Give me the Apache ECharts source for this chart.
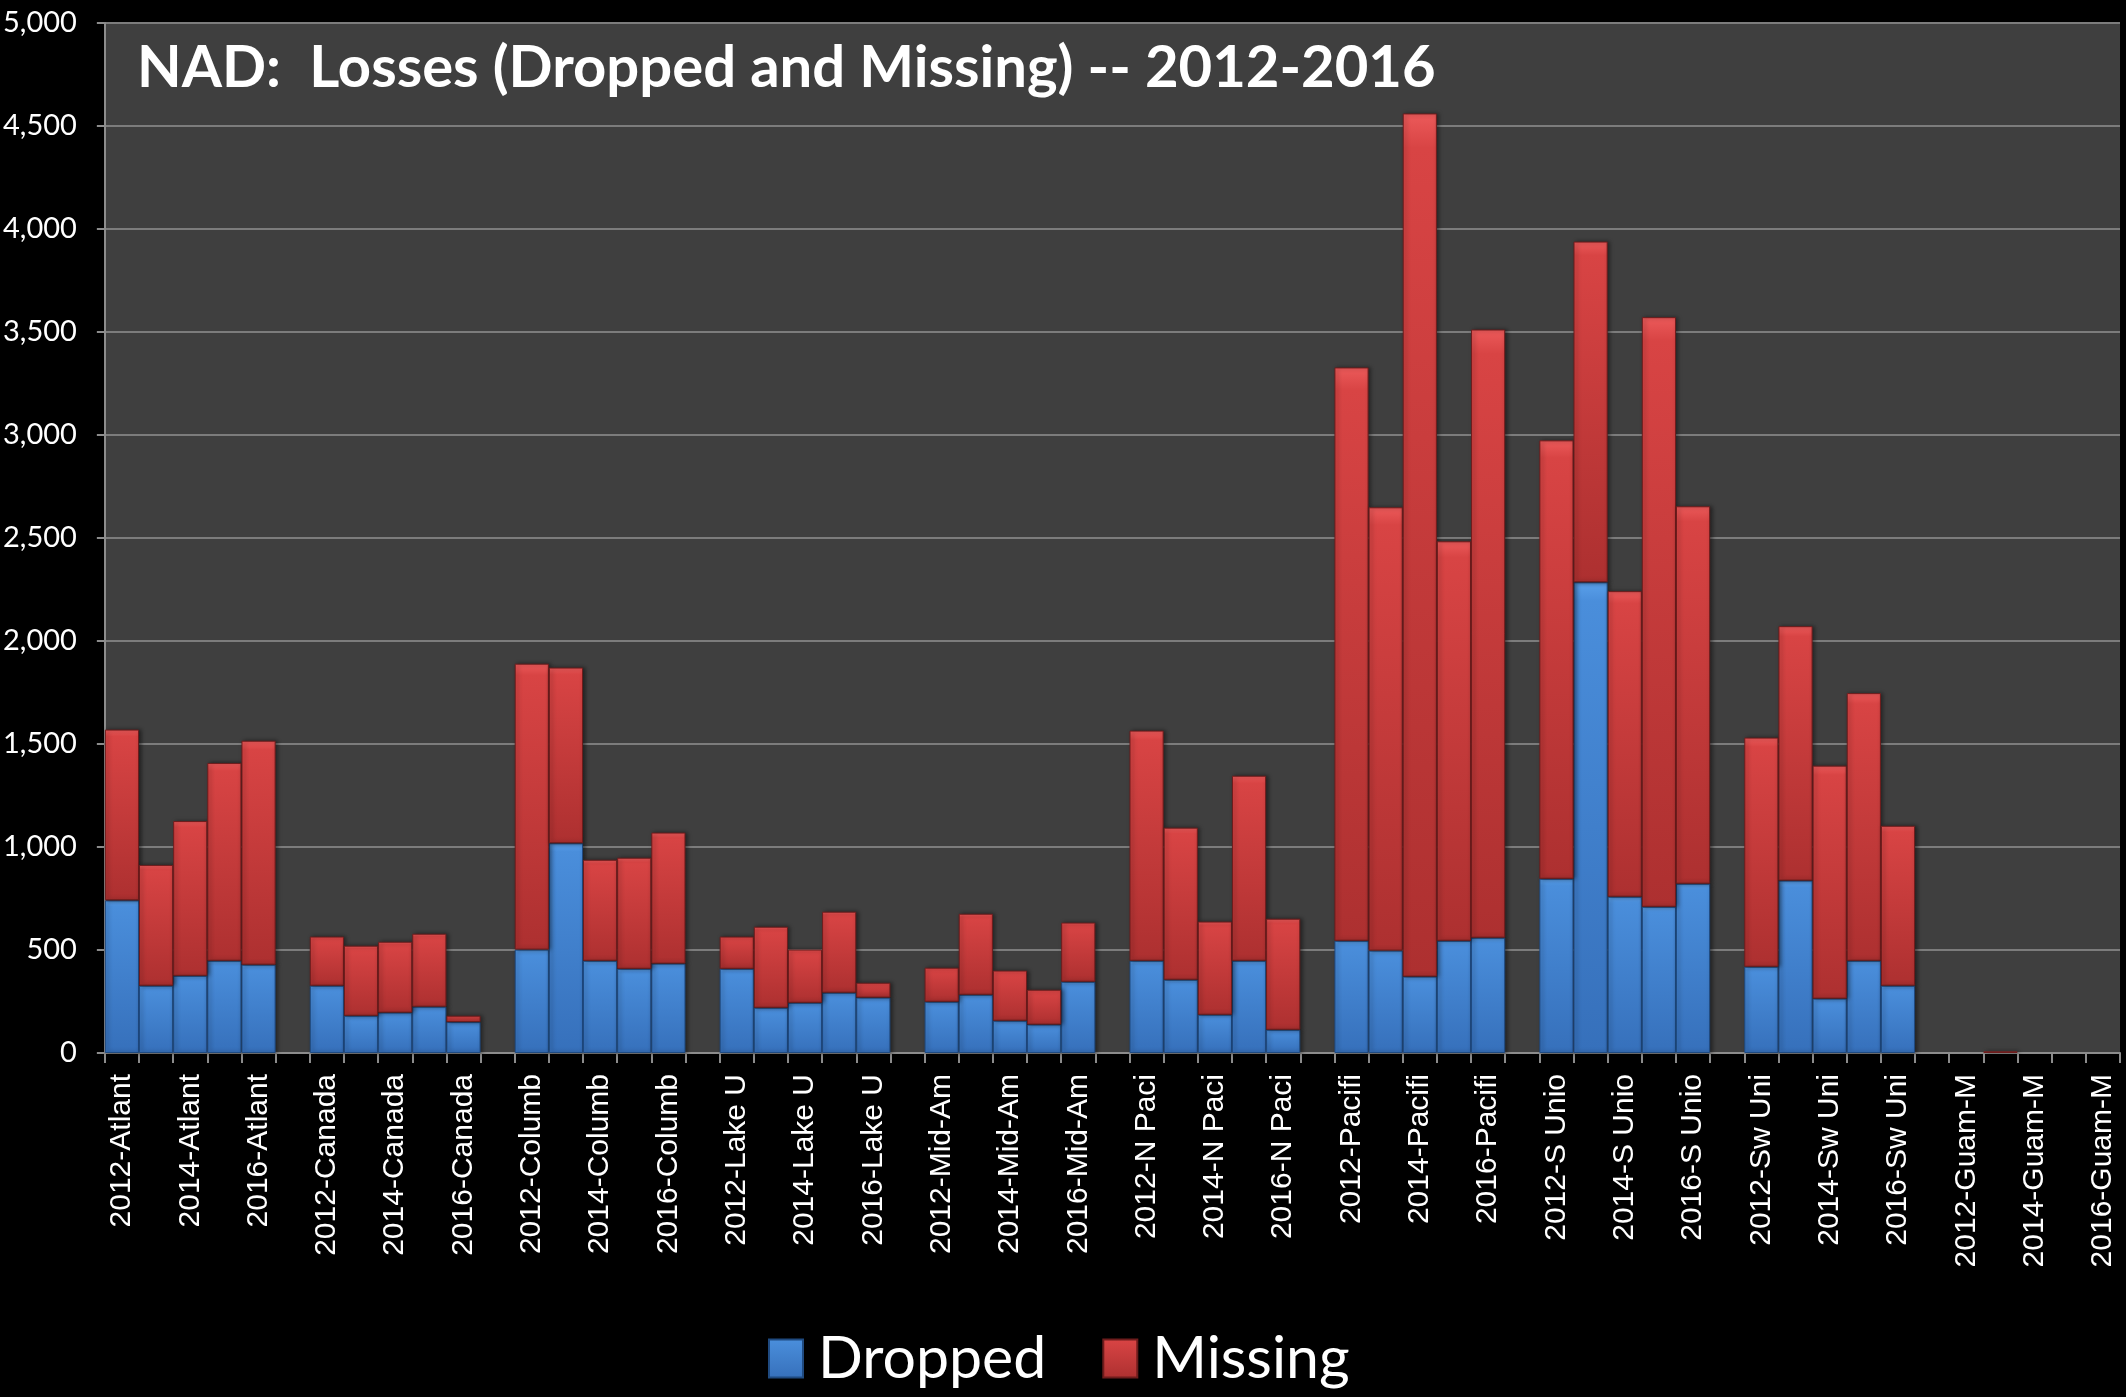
<!DOCTYPE html>
<html>
<head>
<meta charset="utf-8">
<script src="https://cdn.jsdelivr.net/npm/echarts@6/dist/echarts.min.js"></script>
<style>
html,body{margin:0;padding:0;background:#000;}
#chart{width:2126px;height:1397px;}
</style>
</head>
<body>
<div id="chart"></div>
<script>
var regions = ['Atlant','Canada','Columb','Lake U','Mid-Am','N Paci','Pacifi','S Unio','Sw Uni','Guam-M'];
var years = ['2012','2013','2014','2015','2016'];
var dropped = {
  'Atlant': [741, 327, 375, 448, 429],
  'Canada': [327, 181, 196, 225, 150],
  'Columb': [502, 1018, 448, 409, 434],
  'Lake U': [409, 220, 244, 293, 269],
  'Mid-Am': [249, 283, 157, 138, 346],
  'N Paci': [448, 356, 186, 448, 113],
  'Pacifi': [545, 497, 371, 545, 560],
  'S Unio': [846, 2285, 759, 710, 822],
  'Sw Uni': [419, 837, 264, 448, 327],
  'Guam-M': [0, 0, 0, 0, 0]
};
var missing = {
  'Atlant': [829, 586, 751, 960, 1087],
  'Canada': [238, 340, 344, 354, 31],
  'Columb': [1388, 853, 490, 539, 636],
  'Lake U': [156, 393, 258, 393, 72],
  'Mid-Am': [165, 393, 243, 169, 287],
  'N Paci': [1117, 738, 452, 898, 539],
  'Pacifi': [2783, 2152, 4190, 1939, 2952],
  'S Unio': [2128, 1654, 1483, 2862, 1832],
  'Sw Uni': [1112, 1235, 1131, 1299, 776],
  'Guam-M': [0, 8, 0, 0, 0]
};
var yTicks = [0, 500, 1000, 1500, 2000, 2500, 3000, 3500, 4000, 4500, 5000];
var titleText = 'NAD:  Losses (Dropped and Missing) -- 2012-2016';

// build category list with a blank spacer between region groups;
// zero values are left empty so no border is drawn for them
function cell(v) { return v === 0 ? '-' : v; }
var cats = [], dData = [], mData = [];
regions.forEach(function (r, gi) {
  if (gi > 0) { cats.push(''); dData.push('-'); mData.push('-'); }
  years.forEach(function (y, yi) {
    cats.push(y + '-' + r);
    dData.push(cell(dropped[r][yi]));
    mData.push(cell(missing[r][yi]));
  });
});

var chart = echarts.init(document.getElementById('chart'), null, {renderer: 'canvas'});
var G = echarts.graphic.LinearGradient;
var blueFill = new G(0, 0, 0, 1, [
  {offset: 0, color: '#5aa0ea'}, {offset: 0.04, color: '#4a8edb'}, {offset: 1, color: '#3670bb'}
]);
var redFill = new G(0, 0, 0, 1, [
  {offset: 0, color: '#ec5a5a'}, {offset: 0.04, color: '#d84444'}, {offset: 1, color: '#ad3030'}
]);

chart.setOption({
  animation: false,
  backgroundColor: '#000000',
  title: {
    text: titleText,
    left: 132, top: 34,
    textStyle: {color: '#ffffff', fontFamily: 'Lato', fontWeight: 'bold', fontSize: 58}
  },
  legend: {
    data: ['Dropped', 'Missing'],
    left: 763, top: 1324,
    itemWidth: 34, itemHeight: 38, itemGap: 56,
    icon: 'rect',
    textStyle: {color: '#ffffff', fontFamily: 'Lato', fontSize: 59, padding: [0, 0, 0, 10]}
  },
  grid: {
    left: 104, right: 6, top: 23, bottom: 344,
    show: true, backgroundColor: '#3f3f3f', borderWidth: 0
  },
  xAxis: {
    type: 'category',
    data: cats,
    boundaryGap: true,
    axisLine: {show: true, lineStyle: {color: '#8c8c8c', width: 2}},
    axisTick: {show: true, interval: 0, length: 10, lineStyle: {color: '#8c8c8c', width: 2}},
    axisLabel: {
      interval: 1, rotate: 90, margin: 21,
      color: '#ffffff', fontFamily: 'Liberation Sans', fontSize: 30
    },
    splitLine: {show: false}
  },
  yAxis: {
    type: 'value',
    min: 0, max: 5000, interval: 500,
    axisLine: {show: true, lineStyle: {color: '#8c8c8c', width: 2}},
    axisTick: {show: true, length: 8, lineStyle: {color: '#8c8c8c', width: 2}},
    axisLabel: {
      margin: 28, color: '#ffffff', fontFamily: 'Lato', fontSize: 29,
      formatter: function (v) { return v.toLocaleString('en-US'); }
    },
    splitLine: {show: true, lineStyle: {color: '#7c7c7c', width: 2}}
  },
  series: [
    {
      name: 'Dropped', type: 'bar', stack: 'loss', data: dData,
      barCategoryGap: '0%', barWidth: '100%',
      itemStyle: {color: blueFill, borderColor: '#1f4a80', borderWidth: 1,
        shadowColor: 'rgba(0,0,0,0.45)', shadowBlur: 4, shadowOffsetX: 2}
    },
    {
      name: 'Missing', type: 'bar', stack: 'loss', data: mData,
      barCategoryGap: '0%', barWidth: '100%',
      itemStyle: {color: redFill, borderColor: '#6e1c1c', borderWidth: 1,
        shadowColor: 'rgba(0,0,0,0.45)', shadowBlur: 4, shadowOffsetX: 2}
    }
  ]
});
</script>
</body>
</html>
